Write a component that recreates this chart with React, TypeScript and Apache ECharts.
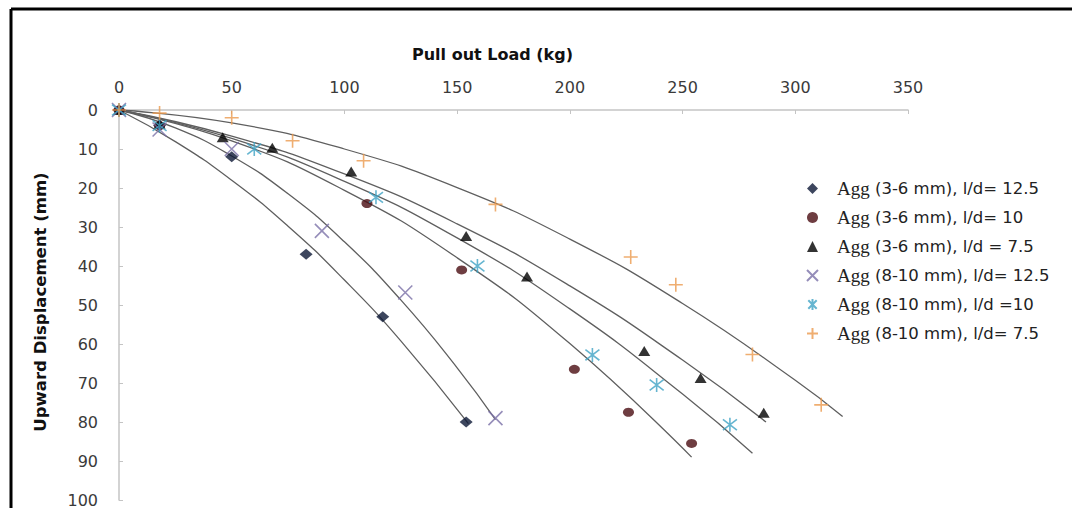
import React, { useEffect, useRef } from "react";
import * as echarts from "echarts";

const seriesNames = [
  "Agg (3-6 mm), l/d= 12.5",
  "Agg (3-6 mm), l/d= 10",
  "Agg (3-6 mm), l/d = 7.5",
  "Agg (8-10 mm), l/d= 12.5",
  "Agg (8-10 mm), l/d =10",
  "Agg (8-10 mm), l/d= 7.5",
];

const xTicks = [0, 50, 100, 150, 200, 250, 300, 350];
const yTicks = [0, 10, 20, 30, 40, 50, 60, 70, 80, 90, 100];

// measured points [load kg, displacement mm]
const agg36ld125 = [[0, 0], [18, 4], [50, 12], [83, 37], [117, 53], [154, 80]];
const agg36ld10 = [[0, 0], [18, 4], [110, 24], [152, 41], [202, 66.5], [226, 77.5], [254, 85.5]];
const agg36ld75 = [[0, 0], [18, 3.5], [46, 7], [68, 9.7], [103, 15.8], [154, 32.3], [181, 42.7], [233, 61.8], [258, 68.7], [286, 77.6]];
const agg810ld125 = [[0, 0], [18, 5], [50, 10], [90, 31], [127, 46.8], [167, 79]];
const agg810ld10 = [[0, 0], [18, 4], [60, 10], [114, 22.4], [159, 40], [210, 62.8], [238.5, 70.5], [271, 80.7]];
const agg810ld75 = [[0, 0], [18, 0.8], [50, 2], [77, 7.9], [108.5, 13], [167, 24.2], [227, 37.7], [247, 44.8], [281, 62.7], [311.5, 75.6]];

// trend curves
const trend36ld125 = [[0, 0], [25, 8.1], [50, 18], [75, 29.8], [100, 43.6], [125, 59.2], [155, 80.4]];
const trend810ld125 = [[0, 0], [25, 4.6], [50, 11.8], [75, 21.5], [100, 33.8], [125, 48.7], [150, 66.1], [167, 79.4]];
const trend36ld10 = [[0, 0], [50, 7.9], [100, 20.6], [150, 37.9], [200, 59.9], [254, 89]];
const trend810ld10 = [[0, 0], [50, 7.3], [100, 18.3], [150, 32.8], [200, 51], [250, 72.8], [281, 88]];
const trend36ld75 = [[0, 0], [50, 6.7], [100, 16.4], [150, 29.2], [200, 45.1], [250, 64.1], [287, 80]];
const trend810ld75 = [[0, 0], [50, 3.3], [100, 10], [150, 19.9], [200, 33.1], [250, 49.6], [300, 69.3], [321, 78.6]];

const pointSets = [agg36ld125, agg36ld10, agg36ld75, agg810ld125, agg810ld10, agg810ld75];
const trendSets = [trend36ld125, trend36ld10, trend36ld75, trend810ld125, trend810ld10, trend810ld75];

const colors = ["#0d1836", "#4a0c12", "#000000", "#7a70a8", "#3fa3c4", "#eb9a4e"];
const symbols = [
  "diamond",
  "circle",
  "triangle",
  "path://M0,0L10,10M10,0L0,10",
  "path://M5,0L5,10M1.2,1.2L8.8,8.8M8.8,1.2L1.2,8.8",
  "path://M0,5L10,5M5,0L5,10",
];
const sizes: any[] = [[13, 11], [11, 9], [12, 10], 14, 14, 14];

export default function App() {
  const ref = useRef<HTMLDivElement>(null);
  useEffect(() => {
    if (!ref.current) return;
    const chart = echarts.init(ref.current, null, { renderer: "svg" });
    const series: any[] = [];
    trendSets.forEach((d, i) => {
      series.push({
        name: "trend" + i,
        type: "line",
        data: d,
        smooth: 0.5,
        symbol: "none",
        lineStyle: { color: "#5f5f5f", width: 1.3 },
        silent: true,
        z: 1,
      });
    });
    pointSets.forEach((d, i) => {
      const isPath = symbols[i].startsWith("path");
      series.push({
        name: seriesNames[i],
        type: "scatter",
        data: d,
        symbol: symbols[i],
        symbolSize: sizes[i],
        itemStyle: isPath
          ? { color: colors[i], borderColor: colors[i], borderWidth: 1.6 }
          : { color: colors[i] },
        z: 3,
      });
    });
    chart.setOption({
      animation: false,
      backgroundColor: "#ffffff",
      grid: { left: 119, right: 164, top: 110, bottom: 5 },
      xAxis: {
        type: "value",
        position: "top",
        min: 0,
        max: 350,
        interval: 50,
        axisLine: { show: true, lineStyle: { color: "#c4c4c4", width: 1.5 } },
        axisTick: { show: true, inside: true, length: 4, lineStyle: { color: "#c4c4c4" } },
        splitLine: { show: false },
        axisLabel: {
          margin: 15,
          fontFamily: "DejaVu Sans",
          fontSize: 16,
          color: "#3a3a3a",
          formatter: (v: number) => (xTicks.includes(v) ? String(v) : ""),
        },
      },
      yAxis: {
        type: "value",
        inverse: true,
        min: 0,
        max: 100,
        interval: 10,
        axisLine: { show: true, lineStyle: { color: "#c4c4c4", width: 1.5 } },
        axisTick: { show: true, inside: true, length: 4, lineStyle: { color: "#c4c4c4" } },
        splitLine: { show: false },
        axisLabel: {
          margin: 21,
          fontFamily: "DejaVu Sans",
          fontSize: 16,
          color: "#3a3a3a",
          formatter: (v: number) => (yTicks.includes(v) ? String(v) : ""),
        },
      },
      legend: {
        data: seriesNames,
        orient: "vertical",
        left: 801,
        top: 174,
        itemWidth: 11,
        itemHeight: 11,
        itemGap: 10,
        formatter: (name: string) => `{a|Agg}{b|${name.replace(/^Agg/, "")}}`,
        textStyle: {
          rich: {
            a: { fontFamily: "Liberation Serif", fontSize: 19, lineHeight: 18, color: "#222", padding: [0, 0, 0, 14] },
            b: { fontFamily: "DejaVu Sans", fontSize: 16.5, lineHeight: 18, color: "#222" },
          },
        },
      },
      graphic: [
        {
          type: "text",
          left: 412,
          top: 46,
          style: {
            text: "Pull out Load (kg)",
            font: "bold 16px 'DejaVu Sans'",
            fill: "#111",
          },
        },
        {
          type: "text",
          x: 40,
          y: 302,
          rotation: Math.PI / 2,
          style: {
            text: "Upward Displacement (mm)",
            font: "bold 16.5px 'DejaVu Sans'",
            fill: "#111",
            align: "center",
            verticalAlign: "middle",
          },
        },
        {
          type: "line",
          shape: { x1: 11, y1: 9, x2: 1072, y2: 9 },
          style: { stroke: "#000", lineWidth: 3 },
        },
        {
          type: "line",
          shape: { x1: 11, y1: 9, x2: 11, y2: 508 },
          style: { stroke: "#000", lineWidth: 3 },
        },
      ],
      series,
    });
    return () => chart.dispose();
  }, []);
  return (
    <div
      ref={ref}
      style={{ position: "fixed", left: 0, top: 0, width: 1072, height: 508, background: "#fff" }}
    />
  );
}
